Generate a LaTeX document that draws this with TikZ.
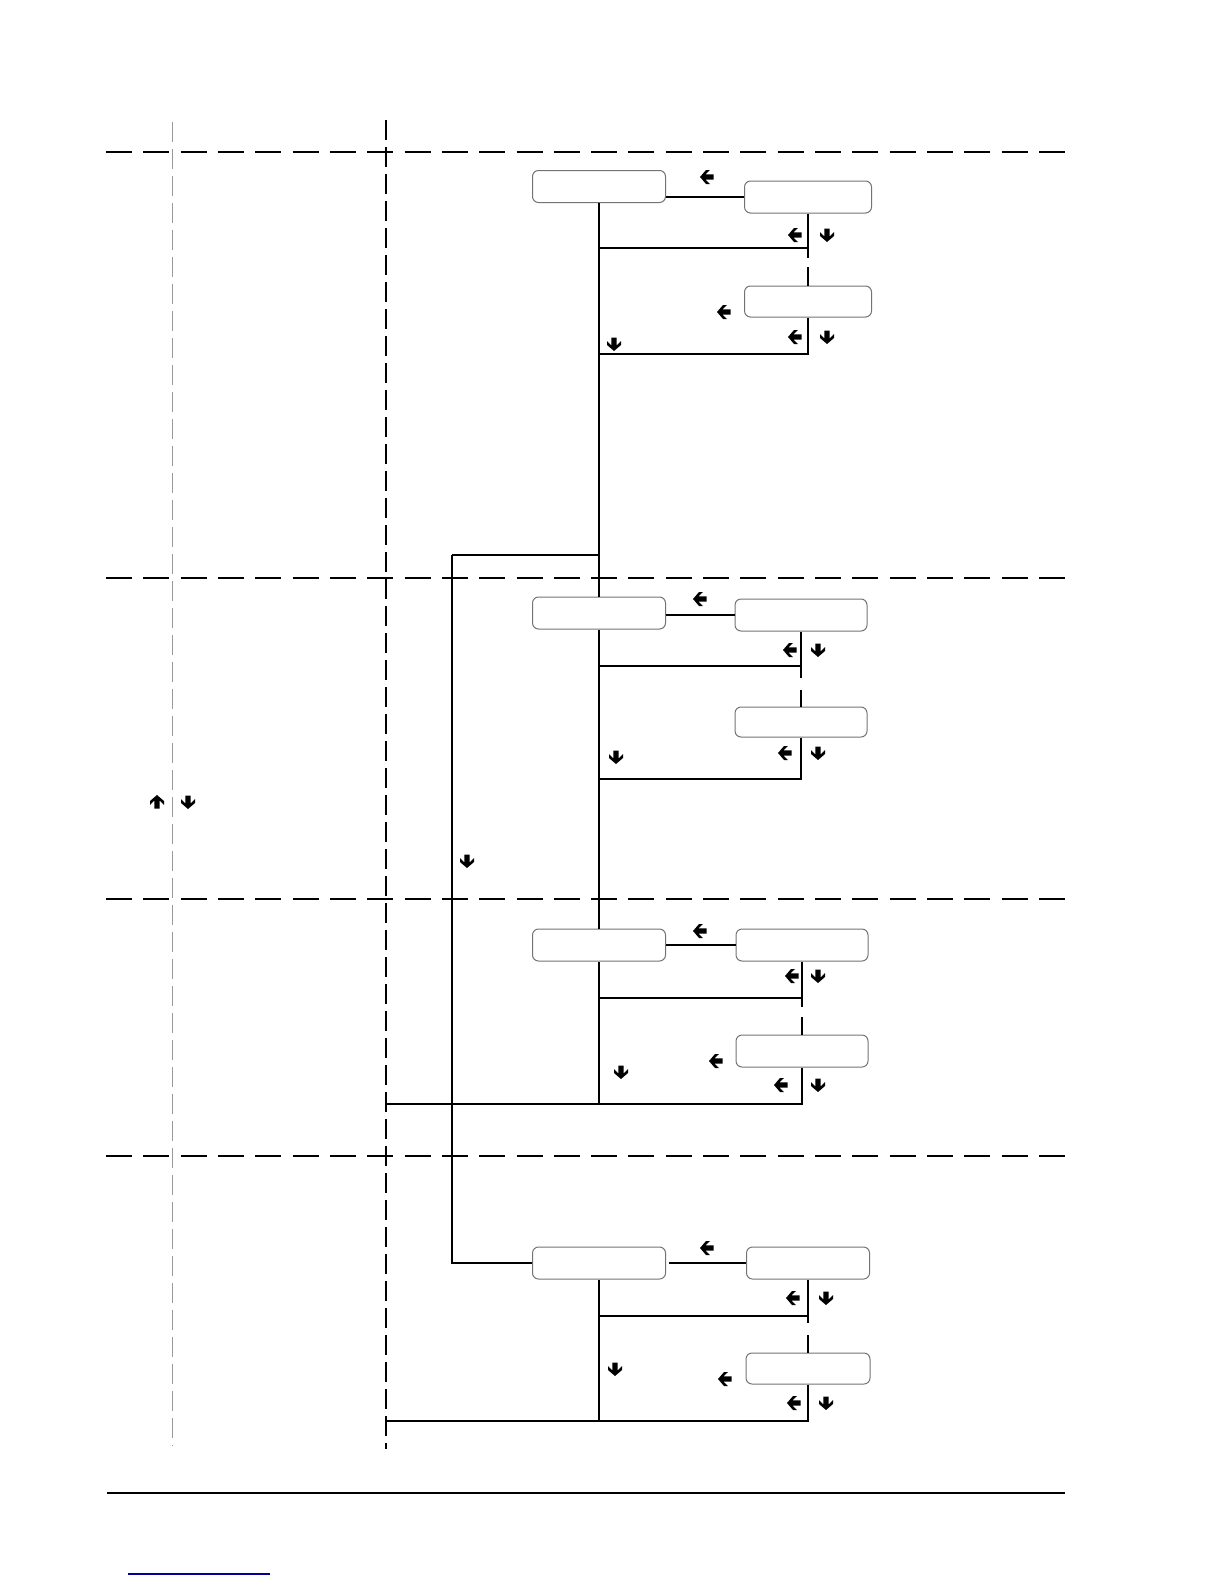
\documentclass[tikz,border=0pt]{standalone}
\usepackage{tikz}
\usetikzlibrary{positioning,arrows.meta}

\begin{document}
\begin{tikzpicture}[x=0.5pt,y=-0.5pt,line width=0.65pt,
  menubox/.style={draw=black!55,line width=0.5pt,rounded corners=3pt,
    minimum width=66.5pt,minimum height=16pt,inner sep=0pt},
  hdash/.style={dash pattern=on 13pt off 5.66pt},
  vdash/.style={dash pattern=on 10pt off 3.5pt},
  larr/.pic={\fill (-7,0) -- (-1,-7) -- (3,-7) -- (-1.5,-2.7) -- (6.5,-2.7) -- (6.5,2.7)
      -- (-1.5,2.7) -- (3,7) -- (-1,7) -- cycle;},
  darr/.pic={\fill (0,7) -- (-7,1) -- (-7,-3) -- (-2.7,1.5) -- (-2.7,-6.5) -- (2.7,-6.5)
      -- (2.7,1.5) -- (7,-3) -- (7,1) -- cycle;},
  uarr/.pic={\fill (0,-7) -- (-7,-1) -- (-7,3) -- (-2.7,-1.5) -- (-2.7,6.5) -- (2.7,6.5)
      -- (2.7,-1.5) -- (7,3) -- (7,-1) -- cycle;}]
  \useasboundingbox (0,0) rectangle (1224,1584);
  % page frame: dashed rows and columns, foot rule
  \foreach \y in {152,578,899,1156}
    \draw[hdash] (106,\y) -- (1065,\y);
  \draw[vdash,black!40,line width=0.5pt] (172,122) -- (172,1446);
  \draw[vdash] (386,120) -- (386,1449);
  \draw (107,1493) -- (1065,1493);
  \draw[blue!60!black] (128,1574) -- (270,1574);

  % section 1
  \node[menubox] (a1) at (599,186.5) {};
  \node[menubox,minimum width=63.5pt] (b1) at (808,197) {};
  \node[menubox,minimum width=63.5pt,minimum height=15.5pt] (b1x) at (808,301.5) {};
  \coordinate (j1) at (808,248);
  \coordinate (k1) at (808,354);
  \coordinate (m1) at (599,555);
  \coordinate (l1) at (452,555);
  \draw (a1.east |- b1.west) -- (b1.west);
  \draw (b1.south) -- (j1) -- (j1 -| a1.south);
  \draw (j1) -- ++(0,10);
  \draw (b1x.north) -- ++(0,-19);
  \draw (b1x.south) -- (k1) -- (k1 -| a1.south);

  % section 2
  \node[menubox] (a2) at (599,613) {};
  \node[menubox,minimum width=66pt] (b2) at (801,615) {};
  \node[menubox,minimum width=66pt,minimum height=15pt] (b2x) at (801,722) {};
  \coordinate (j2) at (801,666);
  \coordinate (k2) at (801,779);
  \draw (a2.east |- b2.west) -- (b2.west);
  \draw (b2.south) -- (j2) -- (j2 -| a2.south);
  \draw (j2) -- ++(0,12);
  \draw (b2x.north) -- ++(0,-17);
  \draw (b2x.south) -- (k2) -- (k2 -| a2.south);
  \draw (a1.south) -- (a2.north);
  \draw (m1) -- (l1);

  % section 3
  \node[menubox] (a3) at (599,945) {};
  \node[menubox,minimum width=66pt] (b3) at (802,945) {};
  \node[menubox,minimum width=66pt] (b3x) at (802,1051) {};
  \coordinate (j3) at (802,998);
  \coordinate (k3) at (802,1104);
  \coordinate (e3) at (386,1104);
  \draw (a3.east |- b3.west) -- (b3.west);
  \draw (b3.south) -- (j3) -- (j3 -| a3.south);
  \draw (j3) -- ++(0,9);
  \draw (b3x.north) -- ++(0,-18);
  \draw (b3x.south) -- (k3) -- (e3);
  \draw (a2.south) -- (a3.north);
  \draw (a3.south) -- (a3.south |- k3);

  % section 4
  \node[menubox] (a4) at (599,1263) {};
  \node[menubox,minimum width=61.5pt] (b4) at (808,1263) {};
  \node[menubox,minimum width=62pt,minimum height=15.5pt] (b4x) at (808,1368.5) {};
  \coordinate (j4) at (808,1316);
  \coordinate (k4) at (808,1421);
  \coordinate (e4) at (386,1421);
  \draw ([xshift=1.5pt]a4.east) -- (b4.west);
  \draw (b4.south) -- (j4) -- (j4 -| a4.south);
  \draw (j4) -- ++(0,7);
  \draw (b4x.north) -- ++(0,-18);
  \draw (b4x.south) -- (k4) -- (e4);
  \draw (a4.south) -- (a4.south |- k4);
  \draw (l1) -- (l1 |- a4.west) -- (a4.west);

  % key arrows
  \foreach \x/\y in {707/177,795/235,724/312,795/337,700/599,790/650,785/753,
      700/931,792/976,716/1061,781/1085,707/1248,793/1298,725/1379,794/1403}
    \pic at (\x,\y) {larr};
  \foreach \x/\y in {827/235,827/337,614/344,818/650,818/753,616/757,467/861,
      188/802,818/976,621/1072,818/1085,826/1298,615/1369,826/1403}
    \pic at (\x,\y) {darr};
  \pic at (157,802) {uarr};
\end{tikzpicture}
\end{document}
